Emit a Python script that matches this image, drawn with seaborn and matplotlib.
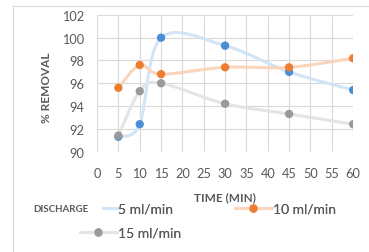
import matplotlib
matplotlib.use("Agg")
import matplotlib.pyplot as plt
import seaborn as sns
import numpy as np
import pandas as pd
from matplotlib.path import Path
from matplotlib.patches import PathPatch, Rectangle
from matplotlib.lines import Line2D

# === Datos ===
time_min = [5, 10, 15, 30, 45, 60]
rem_5 = [91.3, 92.4, 100.0, 99.3, 97.0, 95.4]
rem_10 = [95.6, 97.6, 96.8, 97.4, 97.4, 98.2]
rem_15 = [91.4, 95.3, 96.0, 94.2, 93.3, 92.4]
series = ["5 ml/min", "10 ml/min", "15 ml/min"]
x_ticks = list(range(0, 61, 5))
y_ticks = list(range(90, 103, 2))

marker_col = ["#4a8fd6", "#ed7d31", "#9a9a9a"]
line_col = ["#d3e4f5", "#f9d5bb", "#e4e4e4"]
txt = "#595959"

df = pd.DataFrame({
    "time": time_min * 3,
    "removal": rem_5 + rem_10 + rem_15,
    "serie": [s for s in series for _ in time_min],
})

sns.set_style("white")
plt.rcParams["font.family"] = ["Lato", "DejaVu Sans"]

fig = plt.figure(figsize=(3.69, 2.53), dpi=100)
ax = fig.add_axes([0.263, 0.397, 0.694, 0.540])

# marco exterior del gráfico
fig.patches.append(Rectangle((13 / 369, -0.1), 1.2, 1 - 7 / 253 + 0.1,
                             transform=fig.transFigure, fill=False,
                             edgecolor="#d9d9d9", lw=0.8))


def smooth_path(xs, ys):
    # curva suavizada tipo Excel (Bezier a partir de los puntos)
    pts = np.column_stack([xs, ys]).astype(float)
    n = len(pts)
    verts = [pts[0]]
    codes = [Path.MOVETO]
    for i in range(n - 1):
        p0 = pts[max(i - 1, 0)]
        p1 = pts[i]
        p2 = pts[i + 1]
        p3 = pts[min(i + 2, n - 1)]
        c1 = p1 + (p2 - p0) / 6
        c2 = p2 - (p3 - p1) / 6
        verts += [c1, c2, p2]
        codes += [Path.CURVE4] * 3
    return Path(verts, codes)


for i, s in enumerate(series):
    sub = df[df["serie"] == s]
    ax.add_patch(PathPatch(smooth_path(sub["time"], sub["removal"]), fill=False,
                           edgecolor=line_col[i], lw=2.2, zorder=2 + 2 * i,
                           capstyle="round"))
    sns.scatterplot(data=sub, x="time", y="removal", color=marker_col[i], s=36,
                    edgecolor="none", ax=ax, zorder=3 + 2 * i, legend=False)

ax.set_xlim(0, 60)
ax.set_ylim(90, 102)
ax.set_xticks(x_ticks)
ax.set_yticks(y_ticks)
ax.grid(True, color="#d9d9d9", lw=0.8)
ax.set_axisbelow(True)
for sp in ax.spines.values():
    sp.set_visible(False)
ax.tick_params(length=0, labelsize=9.2, labelcolor=txt, pad=9)
ax.tick_params(axis="x", pad=11)
ax.set_xlabel("")
ax.set_ylabel("")

fig.text(47 / 369, 1 - 88 / 253, "% REMOVAL", rotation=90, ha="center", va="center",
         fontsize=8.5, fontweight="bold", color=txt)
fig.text(225 / 369, 1 - 198 / 253, "TIME (MIN)", ha="center", va="center",
         fontsize=8.5, fontweight="bold", color=txt)
fig.text(33 / 369, 1 - 210 / 253, "DISCHARGE", ha="left", va="center",
         fontsize=7, fontweight="bold", color=txt)

handles = [Line2D([], [], color=line_col[i], lw=2.2, marker="o", markersize=6,
                  markerfacecolor=marker_col[i], markeredgecolor="none")
           for i in range(3)]
handles[0] = Line2D([], [], color=line_col[0], lw=2.2)

# posiciones de cada entrada de la leyenda (x del inicio de la línea, y centro, largo)
leg_pos = [(103, 210, 1.0), (235, 210, 2.65), (80, 234, 2.65)]
for i in range(3):
    lg = fig.legend([handles[i]], [series[i]], loc="center left",
                    bbox_to_anchor=(leg_pos[i][0] / 369, 1 - leg_pos[i][1] / 253),
                    frameon=False, fontsize=10, labelcolor=txt,
                    handlelength=leg_pos[i][2], handletextpad=0.1,
                    borderpad=0, borderaxespad=0)
    fig.add_artist(lg)

fig.savefig("out.png", dpi=100)
